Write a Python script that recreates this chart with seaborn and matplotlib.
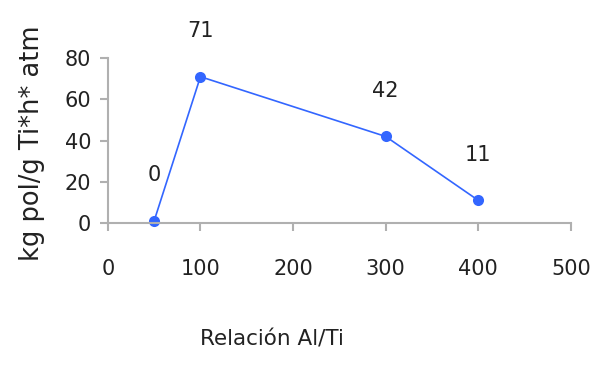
import matplotlib
matplotlib.use("Agg")
import matplotlib.pyplot as plt
import seaborn as sns
import pandas as pd

relacion = [50, 100, 300, 400]
actividad = [1, 71, 42, 11]
etiquetas = ["0", "71", "42", "11"]

sns.set_style("white")
plt.rcParams['font.family'] = ['DejaVu Sans']

df = pd.DataFrame({"x": relacion, "y": actividad})
fig = plt.figure(figsize=(5.99, 3.68), dpi=100)
ax = fig.add_axes([0.180, 0.394, 0.773, 0.448])
color = "#3366ff"
sns.lineplot(data=df, x="x", y="y", ax=ax, color=color, linewidth=1.2,
             marker="o", markersize=8, markeredgewidth=0, sort=False)
for xv, yv, lab in zip(relacion, actividad, etiquetas):
    ax.annotate(lab, (xv, yv), xytext=(0, 33), textcoords="offset points",
                ha="center", va="center", fontsize=15, color="#222222")
ax.set_xlim(0, 500)
ax.set_ylim(0, 80)
ax.set_xticks([0, 100, 200, 300, 400, 500])
ax.set_yticks([0, 20, 40, 60, 80])
for s in ["top", "right"]:
    ax.spines[s].set_visible(False)
for s in ["left", "bottom"]:
    ax.spines[s].set_color("#b0b0b0")
    ax.spines[s].set_linewidth(1.5)
ax.tick_params(axis="both", which="major", direction="out", length=6, width=1.5,
               color="#b0b0b0", labelsize=15, labelcolor="#222222", bottom=True, left=True)
ax.tick_params(axis="x", pad=20)
ax.tick_params(axis="y", pad=6)
ax.set_xlabel("Relación Al/Ti", fontsize=15.5, color="#222222")
ax.xaxis.set_label_coords(0.354, -0.645)
ax.set_ylabel("kg pol/g Ti*h* atm", fontsize=18.5, color="#222222")
ax.yaxis.set_label_coords(-0.135, 0.485)
for l in ax.lines:
    l.set_clip_on(False)
fig.savefig("out.png", dpi=100)
